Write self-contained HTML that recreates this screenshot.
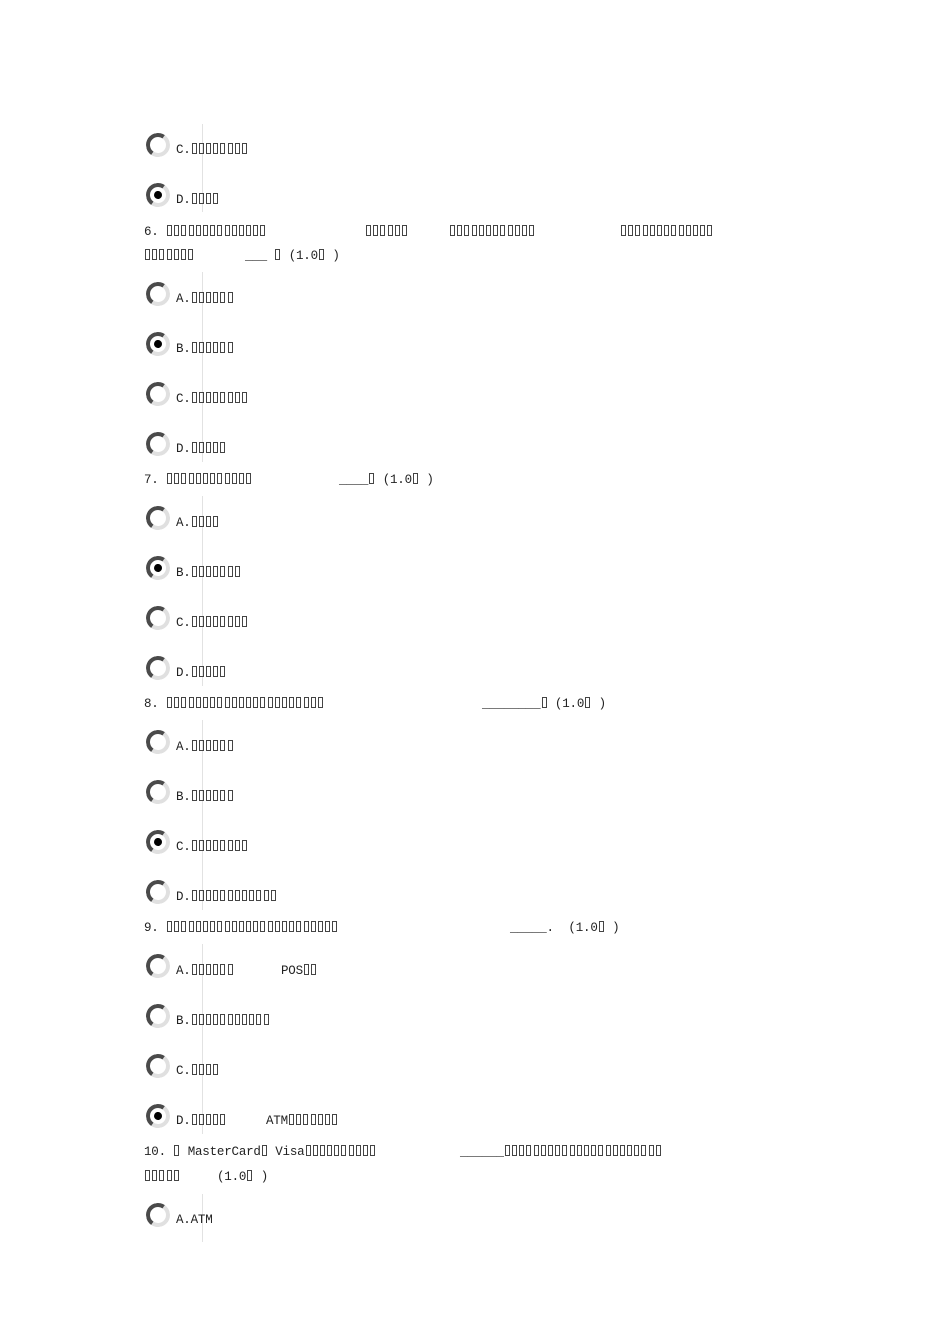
<!DOCTYPE html>
<html><head><meta charset="utf-8"><style>
html,body{margin:0;padding:0;background:#fff;width:950px;height:1344px;overflow:hidden}
body{position:relative;font-family:"Liberation Mono",monospace;font-size:12.5px;color:#222}
.t{position:absolute;white-space:pre;line-height:14px;height:14px;margin-top:2px;letter-spacing:-0.2px}
i{display:inline-block;width:3px;height:9px;border:1px solid #444;margin:0 1.1px;vertical-align:-1px}
.r{position:absolute;width:24px;height:24px;margin:-2px 0 0 -2px;border-radius:50%;border:4px solid;border-color:#4a4a4a #e0e0e0 #e0e0e0 #4a4a4a;box-sizing:border-box;transform:rotate(-10deg)}
.r.s::after{content:"";position:absolute;left:4px;top:4px;width:8px;height:8px;border-radius:50%;background:#000}
.v{position:absolute;left:202px;width:1px;background:#e2e2e2}
</style></head><body>
<div class="v" style="top:124px;height:88px"></div>
<div class="v" style="top:272px;height:190px"></div>
<div class="v" style="top:496px;height:190px"></div>
<div class="v" style="top:720px;height:190px"></div>
<div class="v" style="top:944px;height:190px"></div>
<div class="v" style="top:1194px;height:48px"></div>

<div class="r" style="left:148px;top:135px"></div><div class="t" style="left:176px;top:141px">C.<i></i><i></i><i></i><i></i><i></i><i></i><i></i><i></i></div>
<div class="r s" style="left:148px;top:185px"></div><div class="t" style="left:176px;top:191px">D.<i></i><i></i><i></i><i></i></div>

<div class="t" style="left:144px;top:223px">6. <i></i><i></i><i></i><i></i><i></i><i></i><i></i><i></i><i></i><i></i><i></i><i></i><i></i><i></i></div>
<div class="t" style="left:365px;top:223px"><i></i><i></i><i></i><i></i><i></i><i></i></div>
<div class="t" style="left:449px;top:223px"><i></i><i></i><i></i><i></i><i></i><i></i><i></i><i></i><i></i><i></i><i></i><i></i></div>
<div class="t" style="left:620px;top:223px"><i></i><i></i><i></i><i></i><i></i><i></i><i></i><i></i><i></i><i></i><i></i><i></i><i></i></div>
<div class="t" style="left:144px;top:247px"><i></i><i></i><i></i><i></i><i></i><i></i><i></i></div>
<div class="t" style="left:245px;top:247px">___ <i></i> (1.0<i></i> )</div>

<div class="r" style="left:148px;top:284px"></div><div class="t" style="left:176px;top:290px">A.<i></i><i></i><i></i><i></i><i></i><i></i></div>
<div class="r s" style="left:148px;top:334px"></div><div class="t" style="left:176px;top:340px">B.<i></i><i></i><i></i><i></i><i></i><i></i></div>
<div class="r" style="left:148px;top:384px"></div><div class="t" style="left:176px;top:390px">C.<i></i><i></i><i></i><i></i><i></i><i></i><i></i><i></i></div>
<div class="r" style="left:148px;top:434px"></div><div class="t" style="left:176px;top:440px">D.<i></i><i></i><i></i><i></i><i></i></div>

<div class="t" style="left:144px;top:471px">7. <i></i><i></i><i></i><i></i><i></i><i></i><i></i><i></i><i></i><i></i><i></i><i></i></div>
<div class="t" style="left:339px;top:471px">____<i></i> (1.0<i></i> )</div>
<div class="r" style="left:148px;top:508px"></div><div class="t" style="left:176px;top:514px">A.<i></i><i></i><i></i><i></i></div>
<div class="r s" style="left:148px;top:558px"></div><div class="t" style="left:176px;top:564px">B.<i></i><i></i><i></i><i></i><i></i><i></i><i></i></div>
<div class="r" style="left:148px;top:608px"></div><div class="t" style="left:176px;top:614px">C.<i></i><i></i><i></i><i></i><i></i><i></i><i></i><i></i></div>
<div class="r" style="left:148px;top:658px"></div><div class="t" style="left:176px;top:664px">D.<i></i><i></i><i></i><i></i><i></i></div>

<div class="t" style="left:144px;top:695px">8. <i></i><i></i><i></i><i></i><i></i><i></i><i></i><i></i><i></i><i></i><i></i><i></i><i></i><i></i><i></i><i></i><i></i><i></i><i></i><i></i><i></i><i></i></div>
<div class="t" style="left:482px;top:695px">________<i></i> (1.0<i></i> )</div>
<div class="r" style="left:148px;top:732px"></div><div class="t" style="left:176px;top:738px">A.<i></i><i></i><i></i><i></i><i></i><i></i></div>
<div class="r" style="left:148px;top:782px"></div><div class="t" style="left:176px;top:788px">B.<i></i><i></i><i></i><i></i><i></i><i></i></div>
<div class="r s" style="left:148px;top:832px"></div><div class="t" style="left:176px;top:838px">C.<i></i><i></i><i></i><i></i><i></i><i></i><i></i><i></i></div>
<div class="r" style="left:148px;top:882px"></div><div class="t" style="left:176px;top:888px">D.<i></i><i></i><i></i><i></i><i></i><i></i><i></i><i></i><i></i><i></i><i></i><i></i></div>

<div class="t" style="left:144px;top:919px">9. <i></i><i></i><i></i><i></i><i></i><i></i><i></i><i></i><i></i><i></i><i></i><i></i><i></i><i></i><i></i><i></i><i></i><i></i><i></i><i></i><i></i><i></i><i></i><i></i></div>
<div class="t" style="left:510px;top:919px">_____.  (1.0<i></i> )</div>
<div class="r" style="left:148px;top:956px"></div><div class="t" style="left:176px;top:962px">A.<i></i><i></i><i></i><i></i><i></i><i></i></div><div class="t" style="left:281px;top:962px">POS<i></i><i></i></div>
<div class="r" style="left:148px;top:1006px"></div><div class="t" style="left:176px;top:1012px">B.<i></i><i></i><i></i><i></i><i></i><i></i><i></i><i></i><i></i><i></i><i></i></div>
<div class="r" style="left:148px;top:1056px"></div><div class="t" style="left:176px;top:1062px">C.<i></i><i></i><i></i><i></i></div>
<div class="r s" style="left:148px;top:1106px"></div><div class="t" style="left:176px;top:1112px">D.<i></i><i></i><i></i><i></i><i></i></div><div class="t" style="left:266px;top:1112px">ATM<i></i><i></i><i></i><i></i><i></i><i></i><i></i></div>

<div class="t" style="left:144px;top:1143px">10. <i></i> MasterCard<i></i> Visa<i></i><i></i><i></i><i></i><i></i><i></i><i></i><i></i><i></i><i></i></div>
<div class="t" style="left:460px;top:1143px">______<i></i><i></i><i></i><i></i><i></i><i></i><i></i><i></i><i></i><i></i><i></i><i></i><i></i><i></i><i></i><i></i><i></i><i></i><i></i><i></i><i></i><i></i></div>
<div class="t" style="left:144px;top:1168px"><i></i><i></i><i></i><i></i><i></i></div>
<div class="t" style="left:217px;top:1168px">(1.0<i></i> )</div>
<div class="r" style="left:148px;top:1205px"></div><div class="t" style="left:176px;top:1211px">A.ATM</div>
</body></html>
